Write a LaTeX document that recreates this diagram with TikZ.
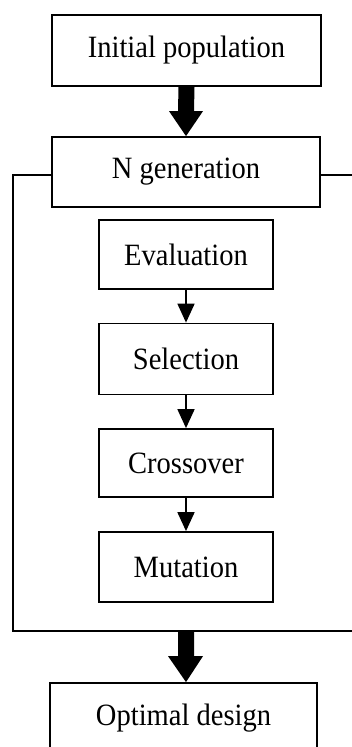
\documentclass[tikz,border=0pt]{standalone}
\usepackage{fontspec}
\setmainfont{Liberation Serif}[FakeStretch=0.92]
\usetikzlibrary{arrows.meta,calc}
\tikzset{
  box/.style={draw, line width=1.8pt, rectangle, inner sep=0pt, font=\fontsize{31}{34}\selectfont},
  thin/.style={line width=1.8pt, -{Triangle[width=17pt,length=19pt]}},
  frame/.style={line width=1.8pt},
  bigarrow/.style={fill=black}
}
\begin{document}
\begin{tikzpicture}[x=1pt,y=-1pt]
\useasboundingbox (0,0) rectangle (352,747);
\clip (0,0) rectangle (352,747);
\node[box, minimum width=269pt, minimum height=71pt] (init) at (186.5,50.5) {Initial population};
\node[box, minimum width=268pt, minimum height=70pt] (ngen) at (186,172) {N generation};
\node[box, minimum width=174pt, minimum height=69pt] (eval) at (186,254.5) {Evaluation};
\node[box, minimum width=174pt, minimum height=71pt] (sel) at (186,359) {Selection};
\node[box, minimum width=174pt, minimum height=68pt] (cross) at (186,463) {Crossover};
\node[box, minimum width=174pt, minimum height=70pt] (mut) at (186,567) {Mutation};
\node[box, minimum width=267pt, minimum height=70pt] (opt) at (183.5,718) {Optimal design};
% feedback frame
\coordinate (fl) at (13,175);
\coordinate (fbl) at (13,631);
\coordinate (fbr) at (360,631);
\coordinate (fr) at (360,175);
\draw[frame] (ngen.west |- fl) -- (fl) -- (fbl) -- (fbr);
\draw[frame] (ngen.east |- fr) -- (fr);
% thin arrows
\draw[thin] (eval.south) -- (sel.north);
\draw[thin] (sel.south) -- (cross.north);
\draw[thin] (cross.south) -- (mut.north);
% big arrows
\fill[bigarrow] ($(init.south)+(-8,0)$) -- ($(ngen.north)+(-8,-25)$) -- ($(ngen.north)+(-17,-25)$)
  -- (ngen.north) -- ($(ngen.north)+(17,-25)$) -- ($(ngen.north)+(8,-25)$) -- ($(init.south)+(8,0)$) -- cycle;
\coordinate (fb) at (186,631);
\fill[bigarrow] ($(fb)+(-8,0)$) -- ($(opt.north -| fb)+(-8,-26)$) -- ($(opt.north -| fb)+(-18,-26)$)
  -- (opt.north -| fb) -- ($(opt.north -| fb)+(17,-26)$) -- ($(opt.north -| fb)+(8,-26)$) -- ($(fb)+(8,0)$) -- cycle;
\end{tikzpicture}
\end{document}
